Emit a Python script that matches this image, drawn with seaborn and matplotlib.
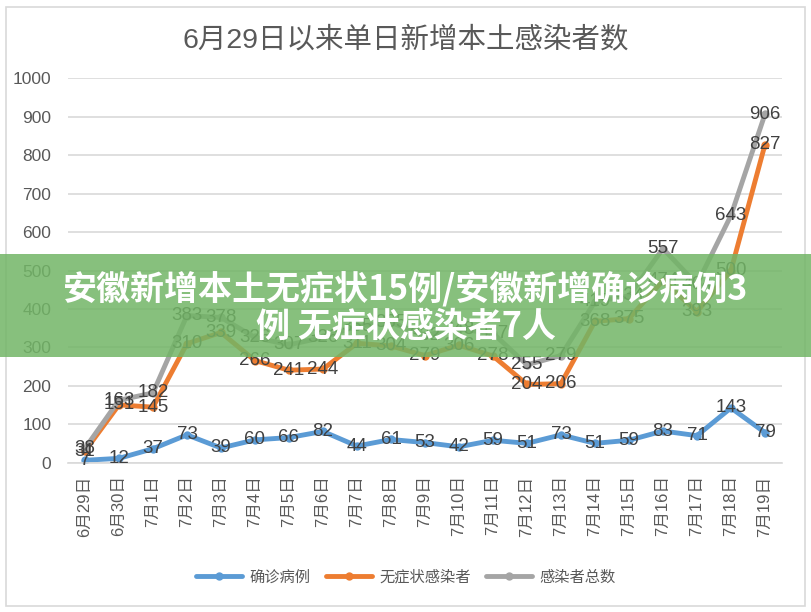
# 6月29日以来单日新增本土感染者数 - line chart
import numpy as np
import pandas as pd
import matplotlib.pyplot as plt
import matplotlib.patches as mpatches
import seaborn as sns

# Data
dates = ['6月29日', '6月30日', '7月1日', '7月2日', '7月3日', '7月4日', '7月5日',
         '7月6日', '7月7日', '7月8日', '7月9日', '7月10日', '7月11日', '7月12日',
         '7月13日', '7月14日', '7月15日', '7月16日', '7月17日', '7月18日', '7月19日']
confirmed = [7, 12, 37, 73, 39, 60, 66, 82, 44, 61, 53, 42, 59, 51, 73, 51, 59, 83, 71, 143, 79]
asymptomatic = [31, 151, 145, 310, 339, 266, 241, 244, 311, 304, 279, 306, 278, 204, 206,
                368, 375, 474, 393, 500, 827]
total = [38, 163, 182, 383, 378, 326, 307, 326, 355, 365, 332, 348, 337, 255, 279,
         419, 434, 557, 464, 643, 906]
series_names = ['确诊病例', '无症状感染者', '感染者总数']
colors = ['#5B9BD5', '#ED7D31', '#A5A5A5']

df = pd.DataFrame({
    '日期': dates * 3,
    '人数': confirmed + asymptomatic + total,
    '类别': [n for n in series_names for _ in dates],
})

sns.set_style('white')
plt.rcParams['font.family'] = ['Liberation Sans', 'Noto Sans CJK SC', 'DejaVu Sans']

fig = plt.figure(figsize=(8.12, 6.12), dpi=100)
ax = fig.add_axes([0.0837, 0.2435, 0.8793, 0.629])

for name, col in zip(series_names, colors):
    sub = df[df['类别'] == name]
    sns.lineplot(data=sub, x='日期', y='人数', color=col, label=name, sort=False,
                 linewidth=3.5, marker='o', markersize=6, markeredgewidth=0, ax=ax)

# data labels centred on the points
for name in series_names:
    sub = df[df['类别'] == name]
    for i, v in enumerate(sub['人数']):
        ax.text(i, v, str(v), ha='center', va='center', fontsize=13.5,
                color='#404040', zorder=5)

ax.set_xlim(-0.5, len(dates) - 0.5)
ax.set_ylim(0, 1000)
ax.set_yticks(np.arange(0, 1001, 100))
ax.set_xticks(range(len(dates)))
ax.set_xticklabels(dates, rotation=90, fontsize=12, color='#595959')
ax.set_xticks(np.arange(-0.5, len(dates), 1), minor=True)
ax.tick_params(axis='x', which='major', length=0, pad=9)
ax.tick_params(axis='x', which='minor', length=6, color='#d9d9d9', width=1)
ax.tick_params(axis='y', length=0, pad=12, labelsize=12.5, labelcolor='#595959')
ax.yaxis.grid(True, color='#d9d9d9', linewidth=1.2)
ax.set_axisbelow(True)
for s in ['top', 'left', 'right']:
    ax.spines[s].set_visible(False)
ax.spines['bottom'].set_color('#d9d9d9')
ax.spines['bottom'].set_linewidth(1.2)
ax.set_xlabel('')
ax.set_ylabel('')

handles, labels = ax.get_legend_handles_labels()
ax.get_legend().remove()
leg = fig.legend(handles, labels, loc='center', bbox_to_anchor=(0.5, 0.057), ncol=3,
                 frameon=False, fontsize=11, handlelength=3, columnspacing=1.0,
                 handletextpad=0.5)
for t in leg.get_texts():
    t.set_color('#595959')

fig.text(0.5, 1 - 40 / 612, '6月29日以来单日新增本土感染者数', ha='center', va='center',
         fontsize=20.5, color='#595959')

# outer frame
fig.patches.append(mpatches.Rectangle((6 / 812, 6 / 612), 799 / 812, 599 / 612, fill=False,
                                      edgecolor='#d9d9d9', linewidth=1.2,
                                      transform=fig.transFigure, zorder=1))

# green banner overlay
fig.patches.append(mpatches.Rectangle((0, 1 - 357 / 612), 1, 103 / 612, facecolor='#72B566',
                                      alpha=0.85, edgecolor='none',
                                      transform=fig.transFigure, zorder=5))
fig.text(0.5, 1 - 290 / 612, '安徽新增本土无症状15例/安徽新增确诊病例3', ha='center',
         va='center', fontsize=24.5, fontweight='bold', color='white',
         family=['Noto Sans CJK SC', 'DejaVu Sans'], zorder=6)
fig.text(0.5, 1 - 326 / 612, '例 无症状感染者7人', ha='center', va='center', fontsize=24.5,
         fontweight='bold', color='white', family=['Noto Sans CJK SC', 'DejaVu Sans'],
         zorder=6)

plt.savefig('out.png', dpi=100)
